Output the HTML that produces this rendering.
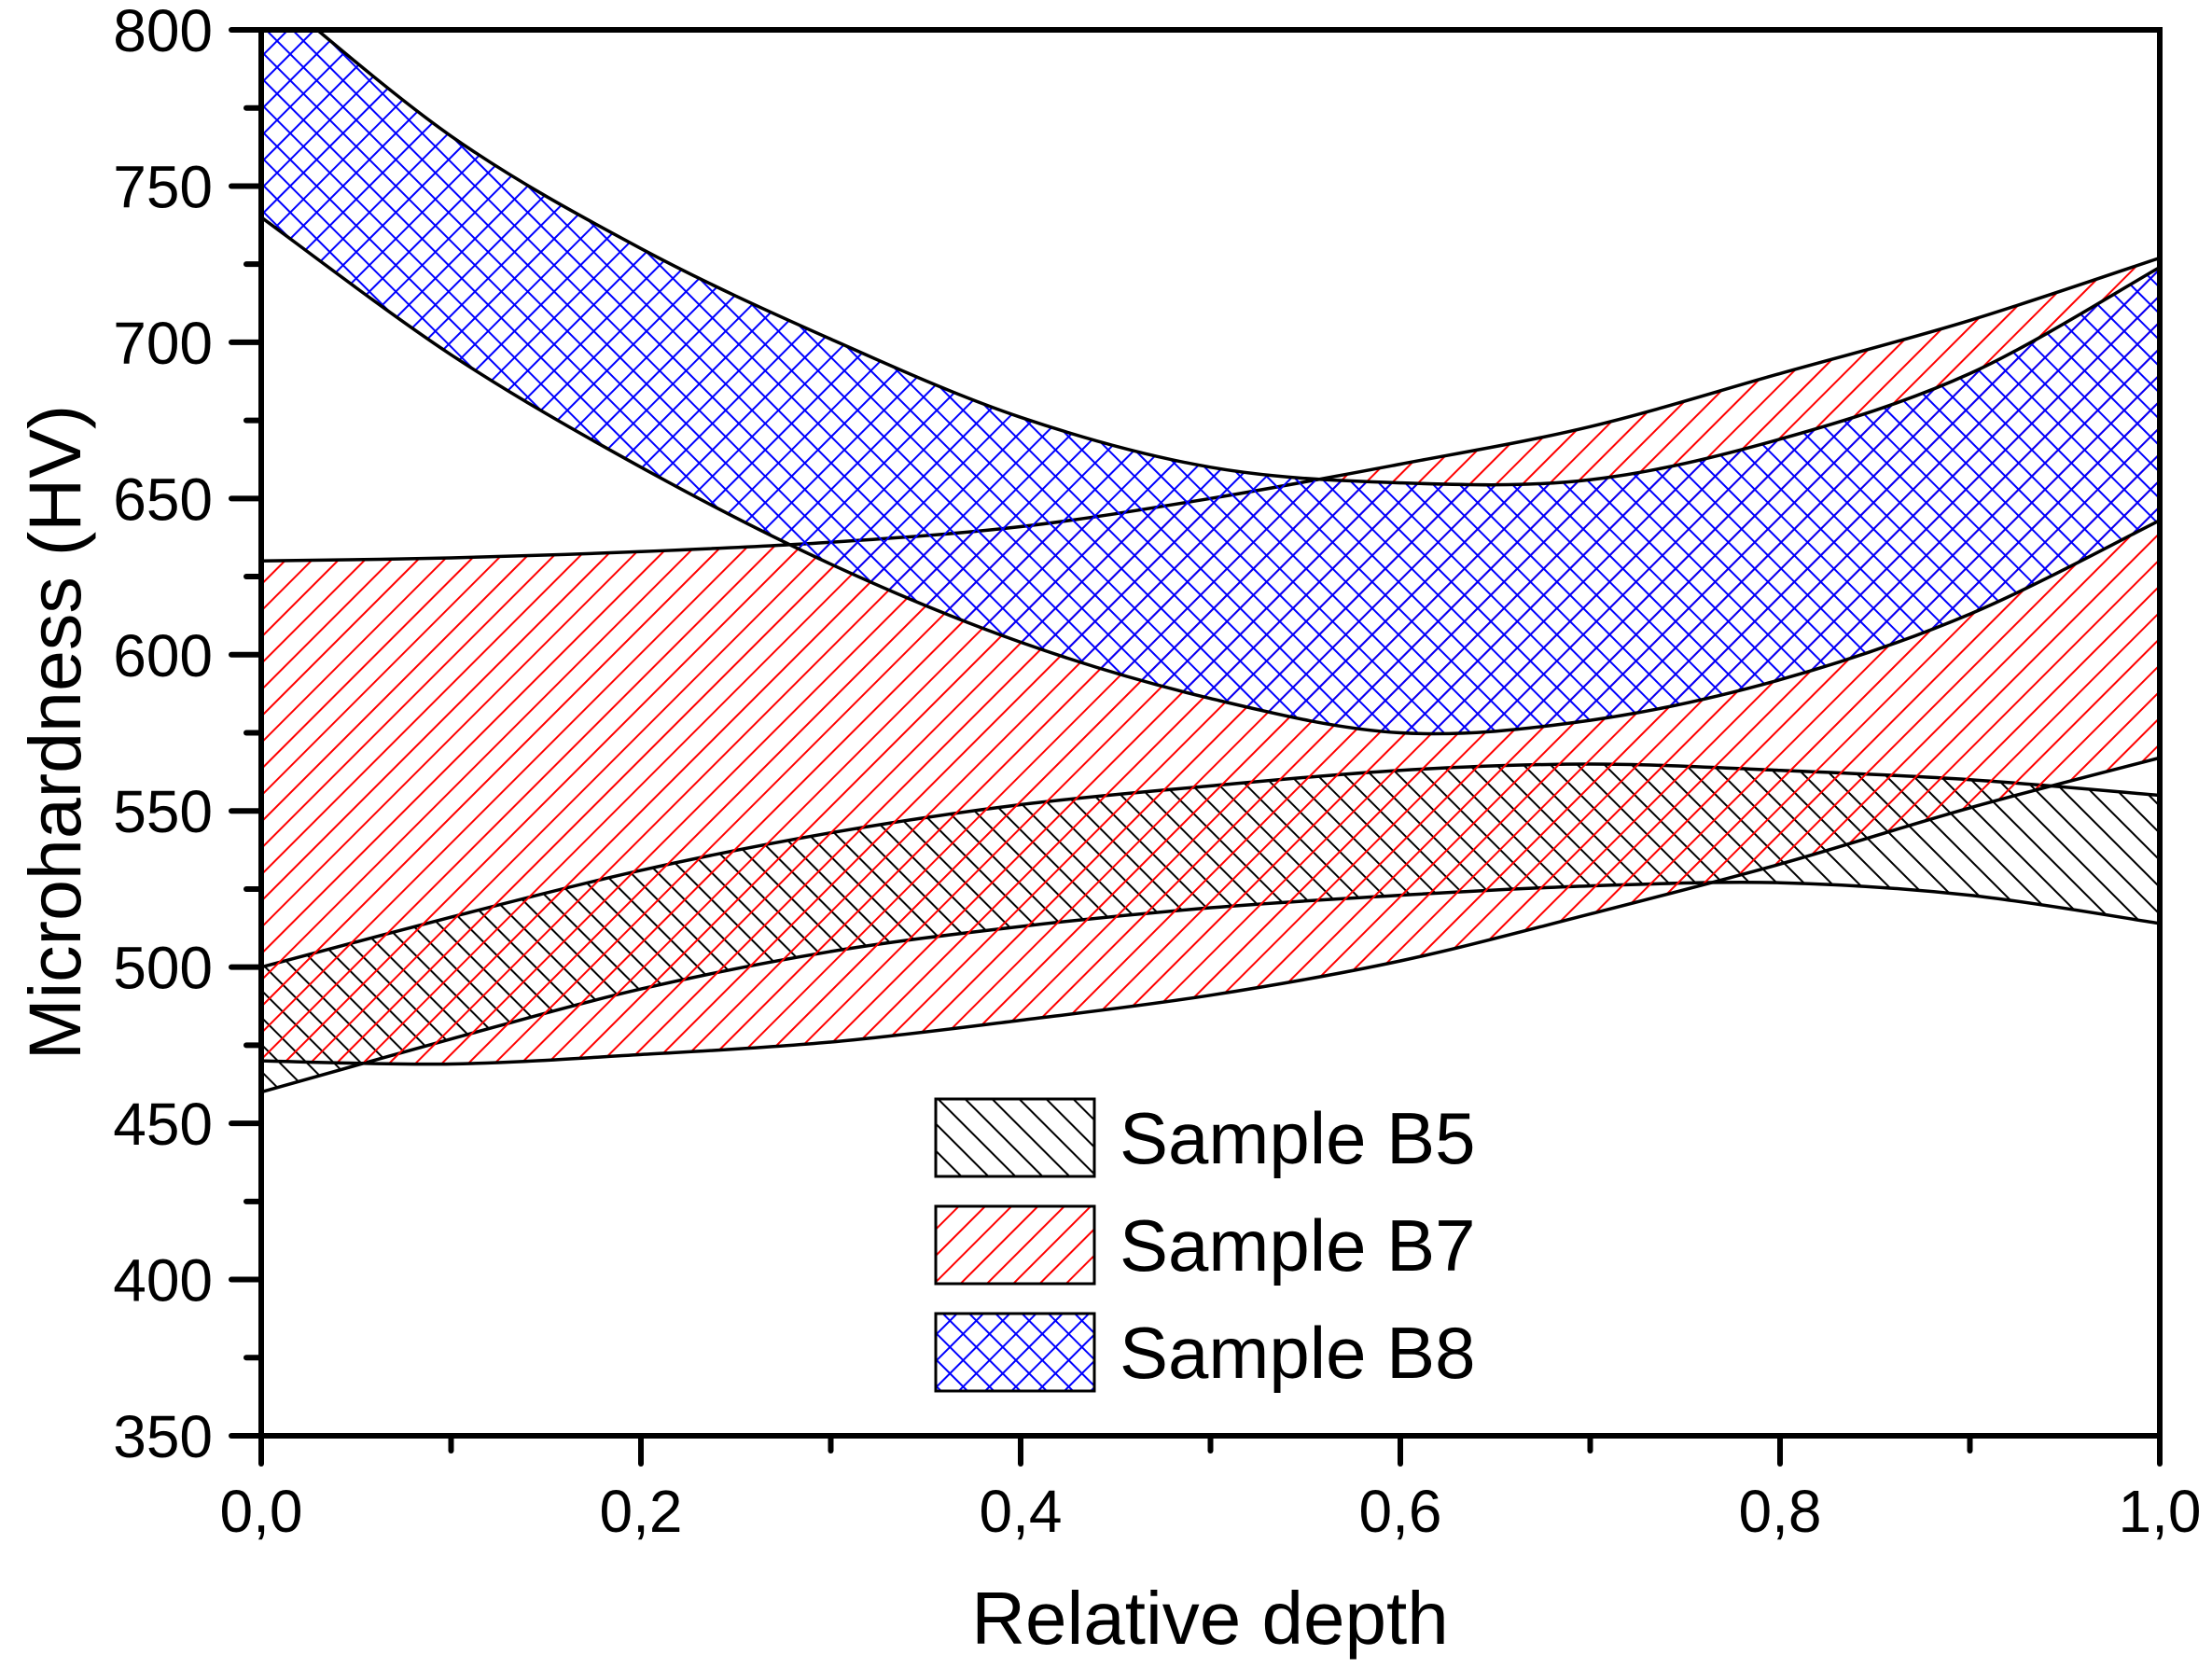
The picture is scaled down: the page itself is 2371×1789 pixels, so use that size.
<!DOCTYPE html>
<html><head><meta charset="utf-8"><style>
html,body{margin:0;padding:0;background:#fff}
svg{display:block}
text{font-family:"Liberation Sans",Arial,sans-serif;fill:#000}
</style></head><body>
<svg id="chart" width="2371" height="1789" viewBox="0 0 2371 1789" xmlns="http://www.w3.org/2000/svg">
<defs>
<clipPath id="plotclip"><rect x="280" y="32" width="2035" height="1507"/></clipPath>
<pattern id="hB5" patternUnits="userSpaceOnUse" width="20.5" height="20.5" patternTransform="rotate(-45)">
<line x1="0" y1="0" x2="0" y2="20.5" stroke="#000" stroke-width="4"/></pattern>
<pattern id="hB7" patternUnits="userSpaceOnUse" width="20" height="20" patternTransform="rotate(45)">
<line x1="0" y1="0" x2="0" y2="20" stroke="#f00" stroke-width="4"/></pattern>
<pattern id="hB8" patternUnits="userSpaceOnUse" width="20" height="20" patternTransform="rotate(45)">
<line x1="0" y1="0" x2="0" y2="20" stroke="#00f" stroke-width="4"/>
<line x1="0" y1="0" x2="20" y2="0" stroke="#00f" stroke-width="4"/></pattern>
</defs>
<g id="bands" clip-path="url(#plotclip)"></g>
<g id="axes"></g>
<text x="1297" y="1762" font-size="80" text-anchor="middle">Relative depth</text>
<text transform="translate(86,785) rotate(-90)" font-size="79" text-anchor="middle">Microhardness (HV)</text>
<g>
<rect x="1003" y="1178" width="170" height="83" fill="url(#hB5)" stroke="#000" stroke-width="3"/>
<text x="1200" y="1247" font-size="78">Sample B5</text>
<rect x="1003" y="1293" width="170" height="83" fill="url(#hB7)" stroke="#000" stroke-width="3"/>
<text x="1200" y="1362" font-size="78">Sample B7</text>
<rect x="1003" y="1408" width="170" height="83" fill="url(#hB8)" stroke="#000" stroke-width="3"/>
<text x="1200" y="1477" font-size="78">Sample B8</text>
</g>
</svg>
<script>
const xs = [0,0.1,0.2,0.3,0.4,0.5,0.6,0.7,0.8,0.9,1.0];
const b5Upper = [500,516,531,543,552,558,563,565,563,560,555];
const b5Lower = [460,477,493,505,513,519,523,526,527,523,514];
const b7Upper = [630,631,633,636,641,650,661,673,690,707,727];
const b7Lower = [470,469,472,476,483,491,502,517,533,551,567];
const b8Upper = [815,766,730,701,676,660,655,656,669,690,724];
const b8Lower = [740,696,660,629,604,586,575,579,592,613,643];
const yTicks = [350,400,450,500,550,600,650,700,750,800];
const xTicks = [0,0.2,0.4,0.6,0.8,1.0];
const xTickLabels = ["0,0","0,2","0,4","0,6","0,8","1,0"];

const L=280,R=2315,T=32,B=1539;
const X=v=>L+(v-0)/(1-0)*(R-L);
const Y=v=>B-(v-350)/(800-350)*(B-T);
const NS="http://www.w3.org/2000/svg";

function smooth(pts){
  let d="";
  for(let i=0;i<pts.length-1;i++){
    const p0=pts[Math.max(0,i-1)],p1=pts[i],p2=pts[i+1],p3=pts[Math.min(pts.length-1,i+2)];
    const c1=[p1[0]+(p2[0]-p0[0])/6,p1[1]+(p2[1]-p0[1])/6];
    const c2=[p2[0]-(p3[0]-p1[0])/6,p2[1]-(p3[1]-p1[1])/6];
    d+=" C"+c1[0].toFixed(1)+","+c1[1].toFixed(1)+" "+c2[0].toFixed(1)+","+c2[1].toFixed(1)+" "+p2[0].toFixed(1)+","+p2[1].toFixed(1);
  }
  return d;
}
function band(up,lo,fill,name){
  const pu=xs.map((x,i)=>[X(x),Y(up[i])]);
  const pl=xs.map((x,i)=>[X(x),Y(lo[i])]).reverse();
  const d="M"+pu[0][0]+","+pu[0][1]+smooth(pu)+" L"+pl[0][0]+","+pl[0][1]+smooth(pl)+" Z";
  const p=document.createElementNS(NS,"path");
  p.setAttribute("d",d);p.setAttribute("fill",fill);
  p.setAttribute("stroke","#000");p.setAttribute("stroke-width","3.5");
  
  
  document.getElementById("bands").appendChild(p);
}
band(b5Upper,b5Lower,"url(#hB5)","band-b5");
band(b7Upper,b7Lower,"url(#hB7)","band-b7");
band(b8Upper,b8Lower,"url(#hB8)","band-b8");

const ax=document.getElementById("axes");
function line(x1,y1,x2,y2,w,name){
  const l=document.createElementNS(NS,"line");
  l.setAttribute("x1",x1);l.setAttribute("y1",y1);l.setAttribute("x2",x2);l.setAttribute("y2",y2);
  l.setAttribute("stroke","#000");l.setAttribute("stroke-width",w);l.setAttribute("stroke-linecap","round");
  
  
  ax.appendChild(l);
}
function txt(x,y,s,anchor,name){
  const t=document.createElementNS(NS,"text");
  t.setAttribute("x",x);t.setAttribute("y",y);t.setAttribute("font-size","64");t.setAttribute("text-anchor",anchor);
  t.textContent=s;
  
  
  ax.appendChild(t);
}
const fr=document.createElementNS(NS,"rect");
fr.setAttribute("x",L);fr.setAttribute("y",T);fr.setAttribute("width",R-L);fr.setAttribute("height",B-T);
fr.setAttribute("fill","none");fr.setAttribute("stroke","#000");fr.setAttribute("stroke-width","6");


ax.appendChild(fr);
yTicks.forEach((v,i)=>{
  line(L-32,Y(v),L,Y(v),6,"y-tick");
  txt(228,Y(v)+23,String(v),"end","y-tick-label");
  if(i<yTicks.length-1) line(L-16,Y(v+25),L,Y(v+25),6,"y-minor-tick");
});
xTicks.forEach((v,i)=>{
  line(X(v),B,X(v),B+30,6,"x-tick");
  txt(X(v),1642,xTickLabels[i],"middle","x-tick-label");
  if(i<xTicks.length-1) line(X(v+0.1),B,X(v+0.1),B+16,6,"x-minor-tick");
});
</script>
</body></html>
